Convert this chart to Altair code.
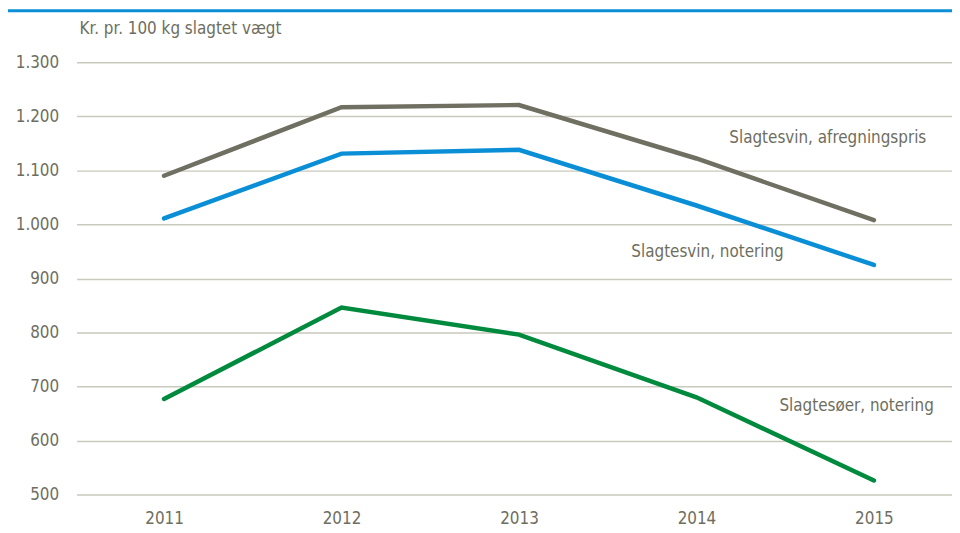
import altair as alt
import pandas as pd

years = [2011, 2012, 2013, 2014, 2015]
afregningspris = [1090, 1217, 1221, 1122, 1008]
svin_notering = [1011, 1131, 1138, 1035, 925]
soer_notering = [677, 846, 796, 680, 526]

series_names = ["Slagtesvin, afregningspris", "Slagtesvin, notering", "Slagtesøer, notering"]
series_colors = ["#6f6f62", "#0a8fd6", "#008a3e"]
y_ticks = [500, 600, 700, 800, 900, 1000, 1100, 1200, 1300]

rows = []
for name, vals in zip(series_names, [afregningspris, svin_notering, soer_notering]):
    for yr, v in zip(years, vals):
        rows.append({"year": yr, "value": v, "series": name})
df = pd.DataFrame(rows)

FONT = "DejaVu Sans Condensed"
FS = 17
TXT = "#6e6e60"
W, H = 881, 435

lines = alt.Chart(df).mark_line(strokeWidth=4.5, strokeCap="round").encode(
    x=alt.X("year:Q", scale=alt.Scale(domain=[2010.507, 2015.44], nice=False, zero=False),
            axis=alt.Axis(values=years, format="d", title=None, grid=False, domain=False, ticks=False,
                          labelFont=FONT, labelFontSize=FS, labelColor=TXT, labelPadding=16)),
    y=alt.Y("value:Q", scale=alt.Scale(domain=[500, 1300], nice=False, zero=False),
            axis=alt.Axis(values=y_ticks, title=None, grid=True, gridColor="#c9c9bd", gridWidth=1.5,
                          domain=False, ticks=False, labelFont=FONT, labelFontSize=FS, labelColor=TXT,
                          labelPadding=18,
                          labelExpr="replace(format(datum.value, ','), ',', '.')")),
    color=alt.Color("series:N", scale=alt.Scale(domain=series_names, range=series_colors), legend=None),
    detail="series:N",
)

label_x = [833 - 77, 712 - 77, 862 - 77]
label_y = [76, 191, 346]
labels = []
for t, lx, ly in zip(series_names, label_x, label_y):
    labels.append(
        alt.Chart(pd.DataFrame({"text": [t]})).mark_text(
            font=FONT, fontSize=FS, color=TXT, align="center", baseline="middle"
        ).encode(x=alt.value(lx), y=alt.value(ly), text="text:N")
    )

title = alt.Chart(pd.DataFrame({"text": ["Kr. pr. 100 kg slagtet vægt"]})).mark_text(
    font=FONT, fontSize=FS, color=TXT, align="left", baseline="middle"
).encode(x=alt.value(3), y=alt.value(-33), text="text:N")

top_rule = alt.Chart(pd.DataFrame({"a": [0]})).mark_rule(color="#0a8fd6", strokeWidth=3).encode(
    x=alt.value(-77), x2=alt.value(W + 20), y=alt.value(-52)
)

chart = alt.layer(lines, *labels, title, top_rule).properties(
    width=W, height=H,
    background="white",
    autosize=alt.AutoSizeParams(type="none"),
    padding={"left": 69, "top": 53, "right": 0, "bottom": 36},
).configure_view(strokeWidth=0)

chart.save("out.html", embed_options={"renderer": "svg", "actions": False})
